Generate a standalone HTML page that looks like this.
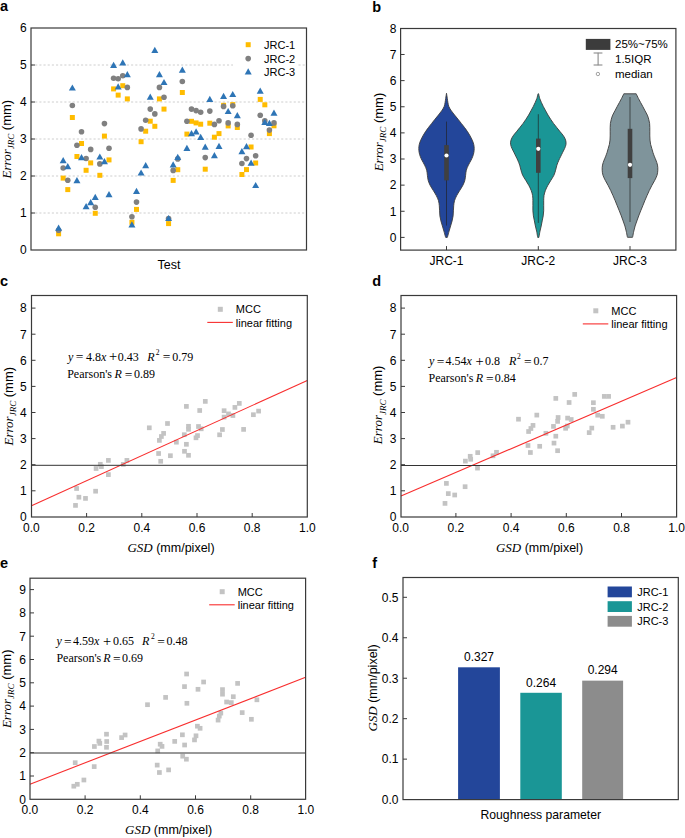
<!DOCTYPE html>
<html><head><meta charset="utf-8"><style>
html,body{margin:0;padding:0;background:#fff;overflow:hidden;}
svg{display:block;}
</style></head><body>
<svg width="685" height="838" viewBox="0 0 685 838" font-family='"Liberation Sans", sans-serif'>
<rect width="685" height="838" fill="#fff"/>
<line x1="31.00" y1="213.00" x2="306.50" y2="213.00" stroke="#c8c8c8" stroke-width="0.9" stroke-dasharray="2.1,2.07"/>
<line x1="31.00" y1="176.00" x2="306.50" y2="176.00" stroke="#c8c8c8" stroke-width="0.9" stroke-dasharray="2.1,2.07"/>
<line x1="31.00" y1="139.00" x2="306.50" y2="139.00" stroke="#c8c8c8" stroke-width="0.9" stroke-dasharray="2.1,2.07"/>
<line x1="31.00" y1="102.00" x2="306.50" y2="102.00" stroke="#c8c8c8" stroke-width="0.9" stroke-dasharray="2.1,2.07"/>
<line x1="31.00" y1="65.00" x2="233.00" y2="65.00" stroke="#c8c8c8" stroke-width="0.9" stroke-dasharray="2.1,2.07"/>
<line x1="298.50" y1="65.00" x2="306.50" y2="65.00" stroke="#c8c8c8" stroke-width="0.9" stroke-dasharray="2.1,2.07"/>
<text x="26.60" y="254.30" font-size="12" text-anchor="end" font-family='"Liberation Sans", sans-serif' font-weight="normal" font-style="normal" fill="#000" >0</text>
<line x1="31.00" y1="213.00" x2="35.00" y2="213.00" stroke="#3a3a3a" stroke-width="1" />
<text x="26.60" y="217.30" font-size="12" text-anchor="end" font-family='"Liberation Sans", sans-serif' font-weight="normal" font-style="normal" fill="#000" >1</text>
<line x1="31.00" y1="176.00" x2="35.00" y2="176.00" stroke="#3a3a3a" stroke-width="1" />
<text x="26.60" y="180.30" font-size="12" text-anchor="end" font-family='"Liberation Sans", sans-serif' font-weight="normal" font-style="normal" fill="#000" >2</text>
<line x1="31.00" y1="139.00" x2="35.00" y2="139.00" stroke="#3a3a3a" stroke-width="1" />
<text x="26.60" y="143.30" font-size="12" text-anchor="end" font-family='"Liberation Sans", sans-serif' font-weight="normal" font-style="normal" fill="#000" >3</text>
<line x1="31.00" y1="102.00" x2="35.00" y2="102.00" stroke="#3a3a3a" stroke-width="1" />
<text x="26.60" y="106.30" font-size="12" text-anchor="end" font-family='"Liberation Sans", sans-serif' font-weight="normal" font-style="normal" fill="#000" >4</text>
<line x1="31.00" y1="65.00" x2="35.00" y2="65.00" stroke="#3a3a3a" stroke-width="1" />
<text x="26.60" y="69.30" font-size="12" text-anchor="end" font-family='"Liberation Sans", sans-serif' font-weight="normal" font-style="normal" fill="#000" >5</text>
<text x="26.60" y="32.30" font-size="12" text-anchor="end" font-family='"Liberation Sans", sans-serif' font-weight="normal" font-style="normal" fill="#000" >6</text>
<rect x="31.00" y="28.00" width="275.50" height="222.00" fill="none" stroke="#3a3a3a" stroke-width="1.2"/>
<rect x="56.10" y="231.30" width="5.0" height="5.0" fill="#FFBC00"/>
<rect x="60.68" y="175.60" width="5.0" height="5.0" fill="#FFBC00"/>
<rect x="65.27" y="187.10" width="5.0" height="5.0" fill="#FFBC00"/>
<rect x="69.85" y="115.00" width="5.0" height="5.0" fill="#FFBC00"/>
<rect x="74.43" y="154.00" width="5.0" height="5.0" fill="#FFBC00"/>
<rect x="79.01" y="141.00" width="5.0" height="5.0" fill="#FFBC00"/>
<rect x="83.60" y="167.80" width="5.0" height="5.0" fill="#FFBC00"/>
<rect x="88.18" y="160.40" width="5.0" height="5.0" fill="#FFBC00"/>
<rect x="92.76" y="210.80" width="5.0" height="5.0" fill="#FFBC00"/>
<rect x="97.34" y="172.80" width="5.0" height="5.0" fill="#FFBC00"/>
<rect x="101.93" y="133.60" width="5.0" height="5.0" fill="#FFBC00"/>
<rect x="106.51" y="157.40" width="5.0" height="5.0" fill="#FFBC00"/>
<rect x="111.09" y="86.40" width="5.0" height="5.0" fill="#FFBC00"/>
<rect x="115.67" y="92.60" width="5.0" height="5.0" fill="#FFBC00"/>
<rect x="120.26" y="83.20" width="5.0" height="5.0" fill="#FFBC00"/>
<rect x="124.84" y="96.40" width="5.0" height="5.0" fill="#FFBC00"/>
<rect x="129.42" y="219.80" width="5.0" height="5.0" fill="#FFBC00"/>
<rect x="134.00" y="206.90" width="5.0" height="5.0" fill="#FFBC00"/>
<rect x="138.59" y="139.20" width="5.0" height="5.0" fill="#FFBC00"/>
<rect x="143.17" y="128.70" width="5.0" height="5.0" fill="#FFBC00"/>
<rect x="147.75" y="118.70" width="5.0" height="5.0" fill="#FFBC00"/>
<rect x="152.33" y="123.80" width="5.0" height="5.0" fill="#FFBC00"/>
<rect x="156.92" y="96.40" width="5.0" height="5.0" fill="#FFBC00"/>
<rect x="161.50" y="106.60" width="5.0" height="5.0" fill="#FFBC00"/>
<rect x="166.08" y="221.10" width="5.0" height="5.0" fill="#FFBC00"/>
<rect x="170.67" y="177.90" width="5.0" height="5.0" fill="#FFBC00"/>
<rect x="175.25" y="167.20" width="5.0" height="5.0" fill="#FFBC00"/>
<rect x="179.83" y="90.00" width="5.0" height="5.0" fill="#FFBC00"/>
<rect x="184.41" y="131.60" width="5.0" height="5.0" fill="#FFBC00"/>
<rect x="189.00" y="118.80" width="5.0" height="5.0" fill="#FFBC00"/>
<rect x="193.58" y="120.40" width="5.0" height="5.0" fill="#FFBC00"/>
<rect x="198.16" y="121.70" width="5.0" height="5.0" fill="#FFBC00"/>
<rect x="202.74" y="166.70" width="5.0" height="5.0" fill="#FFBC00"/>
<rect x="207.33" y="120.70" width="5.0" height="5.0" fill="#FFBC00"/>
<rect x="211.91" y="134.70" width="5.0" height="5.0" fill="#FFBC00"/>
<rect x="216.49" y="131.10" width="5.0" height="5.0" fill="#FFBC00"/>
<rect x="221.07" y="102.80" width="5.0" height="5.0" fill="#FFBC00"/>
<rect x="225.66" y="123.40" width="5.0" height="5.0" fill="#FFBC00"/>
<rect x="230.24" y="102.10" width="5.0" height="5.0" fill="#FFBC00"/>
<rect x="234.82" y="125.00" width="5.0" height="5.0" fill="#FFBC00"/>
<rect x="239.40" y="172.00" width="5.0" height="5.0" fill="#FFBC00"/>
<rect x="243.99" y="167.10" width="5.0" height="5.0" fill="#FFBC00"/>
<rect x="248.57" y="144.50" width="5.0" height="5.0" fill="#FFBC00"/>
<rect x="253.15" y="160.50" width="5.0" height="5.0" fill="#FFBC00"/>
<rect x="257.73" y="96.90" width="5.0" height="5.0" fill="#FFBC00"/>
<rect x="262.32" y="102.30" width="5.0" height="5.0" fill="#FFBC00"/>
<rect x="266.90" y="131.10" width="5.0" height="5.0" fill="#FFBC00"/>
<rect x="271.48" y="123.30" width="5.0" height="5.0" fill="#FFBC00"/>
<circle cx="58.60" cy="230.20" r="2.8" fill="#808080"/>
<circle cx="63.18" cy="168.00" r="2.8" fill="#808080"/>
<circle cx="67.77" cy="180.30" r="2.8" fill="#808080"/>
<circle cx="72.35" cy="105.50" r="2.8" fill="#808080"/>
<circle cx="76.93" cy="145.30" r="2.8" fill="#808080"/>
<circle cx="81.51" cy="131.70" r="2.8" fill="#808080"/>
<circle cx="86.10" cy="158.50" r="2.8" fill="#808080"/>
<circle cx="90.68" cy="149.40" r="2.8" fill="#808080"/>
<circle cx="95.26" cy="207.20" r="2.8" fill="#808080"/>
<circle cx="99.84" cy="163.90" r="2.8" fill="#808080"/>
<circle cx="104.43" cy="123.60" r="2.8" fill="#808080"/>
<circle cx="109.01" cy="148.30" r="2.8" fill="#808080"/>
<circle cx="113.59" cy="78.20" r="2.8" fill="#808080"/>
<circle cx="118.17" cy="78.70" r="2.8" fill="#808080"/>
<circle cx="122.76" cy="75.70" r="2.8" fill="#808080"/>
<circle cx="127.34" cy="87.40" r="2.8" fill="#808080"/>
<circle cx="131.92" cy="216.70" r="2.8" fill="#808080"/>
<circle cx="136.50" cy="202.10" r="2.8" fill="#808080"/>
<circle cx="141.09" cy="128.90" r="2.8" fill="#808080"/>
<circle cx="145.67" cy="120.20" r="2.8" fill="#808080"/>
<circle cx="150.25" cy="109.10" r="2.8" fill="#808080"/>
<circle cx="154.83" cy="113.90" r="2.8" fill="#808080"/>
<circle cx="159.42" cy="87.40" r="2.8" fill="#808080"/>
<circle cx="164.00" cy="97.30" r="2.8" fill="#808080"/>
<circle cx="168.58" cy="218.50" r="2.8" fill="#808080"/>
<circle cx="173.17" cy="170.40" r="2.8" fill="#808080"/>
<circle cx="177.75" cy="158.90" r="2.8" fill="#808080"/>
<circle cx="182.33" cy="81.50" r="2.8" fill="#808080"/>
<circle cx="186.91" cy="121.30" r="2.8" fill="#808080"/>
<circle cx="191.50" cy="109.10" r="2.8" fill="#808080"/>
<circle cx="196.08" cy="110.60" r="2.8" fill="#808080"/>
<circle cx="200.66" cy="112.20" r="2.8" fill="#808080"/>
<circle cx="205.24" cy="157.60" r="2.8" fill="#808080"/>
<circle cx="209.83" cy="111.10" r="2.8" fill="#808080"/>
<circle cx="214.41" cy="124.40" r="2.8" fill="#808080"/>
<circle cx="218.99" cy="120.80" r="2.8" fill="#808080"/>
<circle cx="223.57" cy="106.40" r="2.8" fill="#808080"/>
<circle cx="228.16" cy="122.90" r="2.8" fill="#808080"/>
<circle cx="232.74" cy="105.80" r="2.8" fill="#808080"/>
<circle cx="237.32" cy="124.40" r="2.8" fill="#808080"/>
<circle cx="241.90" cy="163.50" r="2.8" fill="#808080"/>
<circle cx="246.49" cy="158.60" r="2.8" fill="#808080"/>
<circle cx="251.07" cy="135.20" r="2.8" fill="#808080"/>
<circle cx="255.65" cy="155.80" r="2.8" fill="#808080"/>
<circle cx="260.23" cy="115.30" r="2.8" fill="#808080"/>
<circle cx="264.82" cy="120.90" r="2.8" fill="#808080"/>
<circle cx="269.40" cy="130.10" r="2.8" fill="#808080"/>
<circle cx="273.98" cy="122.90" r="2.8" fill="#808080"/>
<polygon points="58.60,224.50 62.10,230.70 55.10,230.70" fill="#2E75B6"/>
<polygon points="63.18,157.00 66.68,163.20 59.68,163.20" fill="#2E75B6"/>
<polygon points="67.77,163.10 71.27,169.30 64.27,169.30" fill="#2E75B6"/>
<polygon points="72.35,84.40 75.85,90.60 68.85,90.60" fill="#2E75B6"/>
<polygon points="76.93,177.00 80.43,183.20 73.43,183.20" fill="#2E75B6"/>
<polygon points="81.51,154.00 85.01,160.20 78.01,160.20" fill="#2E75B6"/>
<polygon points="86.10,203.10 89.60,209.30 82.60,209.30" fill="#2E75B6"/>
<polygon points="90.68,199.00 94.18,205.20 87.18,205.20" fill="#2E75B6"/>
<polygon points="95.26,193.70 98.76,199.90 91.76,199.90" fill="#2E75B6"/>
<polygon points="99.84,153.40 103.34,159.60 96.34,159.60" fill="#2E75B6"/>
<polygon points="104.43,158.00 107.93,164.20 100.93,164.20" fill="#2E75B6"/>
<polygon points="109.01,191.00 112.51,197.20 105.51,197.20" fill="#2E75B6"/>
<polygon points="113.59,61.80 117.09,68.00 110.09,68.00" fill="#2E75B6"/>
<polygon points="118.17,83.30 121.67,89.50 114.67,89.50" fill="#2E75B6"/>
<polygon points="122.76,59.30 126.26,65.50 119.26,65.50" fill="#2E75B6"/>
<polygon points="127.34,71.00 130.84,77.20 123.84,77.20" fill="#2E75B6"/>
<polygon points="131.92,221.30 135.42,227.50 128.42,227.50" fill="#2E75B6"/>
<polygon points="136.50,187.70 140.00,193.90 133.00,193.90" fill="#2E75B6"/>
<polygon points="141.09,169.40 144.59,175.60 137.59,175.60" fill="#2E75B6"/>
<polygon points="145.67,162.10 149.17,168.30 142.17,168.30" fill="#2E75B6"/>
<polygon points="150.25,93.50 153.75,99.70 146.75,99.70" fill="#2E75B6"/>
<polygon points="154.83,46.80 158.33,53.00 151.33,53.00" fill="#2E75B6"/>
<polygon points="159.42,71.00 162.92,77.20 155.92,77.20" fill="#2E75B6"/>
<polygon points="164.00,78.90 167.50,85.10 160.50,85.10" fill="#2E75B6"/>
<polygon points="168.58,214.90 172.08,221.10 165.08,221.10" fill="#2E75B6"/>
<polygon points="173.17,161.30 176.67,167.50 169.67,167.50" fill="#2E75B6"/>
<polygon points="177.75,153.70 181.25,159.90 174.25,159.90" fill="#2E75B6"/>
<polygon points="182.33,66.60 185.83,72.80 178.83,72.80" fill="#2E75B6"/>
<polygon points="186.91,144.80 190.41,151.00 183.41,151.00" fill="#2E75B6"/>
<polygon points="191.50,130.00 195.00,136.20 188.00,136.20" fill="#2E75B6"/>
<polygon points="196.08,128.30 199.58,134.50 192.58,134.50" fill="#2E75B6"/>
<polygon points="200.66,133.80 204.16,140.00 197.16,140.00" fill="#2E75B6"/>
<polygon points="205.24,143.50 208.74,149.70 201.74,149.70" fill="#2E75B6"/>
<polygon points="209.83,95.70 213.33,101.90 206.33,101.90" fill="#2E75B6"/>
<polygon points="214.41,152.00 217.91,158.20 210.91,158.20" fill="#2E75B6"/>
<polygon points="218.99,142.80 222.49,149.00 215.49,149.00" fill="#2E75B6"/>
<polygon points="223.57,92.70 227.07,98.90 220.07,98.90" fill="#2E75B6"/>
<polygon points="228.16,107.90 231.66,114.10 224.66,114.10" fill="#2E75B6"/>
<polygon points="232.74,90.90 236.24,97.10 229.24,97.10" fill="#2E75B6"/>
<polygon points="237.32,112.10 240.82,118.30 233.82,118.30" fill="#2E75B6"/>
<polygon points="241.90,148.10 245.40,154.30 238.40,154.30" fill="#2E75B6"/>
<polygon points="246.49,143.00 249.99,149.20 242.99,149.20" fill="#2E75B6"/>
<polygon points="251.07,159.60 254.57,165.80 247.57,165.80" fill="#2E75B6"/>
<polygon points="255.65,181.90 259.15,188.10 252.15,188.10" fill="#2E75B6"/>
<polygon points="260.23,87.60 263.73,93.80 256.73,93.80" fill="#2E75B6"/>
<polygon points="264.82,118.80 268.32,125.00 261.32,125.00" fill="#2E75B6"/>
<polygon points="269.40,119.80 272.90,126.00 265.90,126.00" fill="#2E75B6"/>
<polygon points="273.98,109.60 277.48,115.80 270.48,115.80" fill="#2E75B6"/>
<rect x="233" y="36" width="65" height="46" fill="#fff"/>
<rect x="245.70" y="42.20" width="5.0" height="5.0" fill="#FFBC00"/>
<text x="264.00" y="48.50" font-size="11" text-anchor="start" font-family='"Liberation Sans", sans-serif' font-weight="normal" font-style="normal" fill="#000" >JRC-1</text>
<circle cx="248.20" cy="58.60" r="2.8" fill="#808080"/>
<text x="264.00" y="62.80" font-size="11" text-anchor="start" font-family='"Liberation Sans", sans-serif' font-weight="normal" font-style="normal" fill="#000" >JRC-2</text>
<polygon points="248.20,68.30 251.70,74.50 244.70,74.50" fill="#2E75B6"/>
<text x="264.00" y="76.10" font-size="11" text-anchor="start" font-family='"Liberation Sans", sans-serif' font-weight="normal" font-style="normal" fill="#000" >JRC-3</text>
<text x="169.00" y="268.70" font-size="12.5" text-anchor="middle" font-family='"Liberation Sans", sans-serif' font-weight="normal" font-style="normal" fill="#000" >Test</text>
<text transform="translate(10.6,139.1) rotate(-90)" font-size="13" text-anchor="middle" fill="#000"><tspan font-family='"Liberation Serif", serif' font-style="italic">Error</tspan><tspan font-family='"Liberation Serif", serif' font-style="italic" font-size="9" dy="3.3">JRC</tspan><tspan font-family='"Liberation Sans", sans-serif' font-size="13" dy="-3.3"> (mm)</tspan></text>
<text x="0.00" y="11.20" font-size="14.5" text-anchor="start" font-family='"Liberation Sans", sans-serif' font-weight="bold" font-style="normal" fill="#000" >a</text>
<path d="M446.50,93.30 C446.63,94.15 447.07,96.87 447.30,98.40 C447.53,99.93 447.63,101.12 447.90,102.50 C448.17,103.88 448.32,105.30 448.90,106.70 C449.48,108.10 450.45,109.50 451.40,110.90 C452.35,112.30 453.50,113.72 454.60,115.10 C455.70,116.48 456.88,117.82 458.00,119.20 C459.12,120.58 460.20,122.00 461.30,123.40 C462.40,124.80 463.55,126.20 464.60,127.60 C465.65,129.00 466.68,130.42 467.60,131.80 C468.52,133.18 469.33,134.52 470.10,135.90 C470.87,137.28 471.60,138.70 472.20,140.10 C472.80,141.50 473.37,142.90 473.70,144.30 C474.03,145.70 474.18,147.10 474.20,148.50 C474.22,149.90 474.07,151.32 473.80,152.70 C473.53,154.08 473.05,155.57 472.60,156.80 C472.15,158.03 471.80,158.72 471.10,160.10 C470.40,161.48 469.20,163.42 468.40,165.10 C467.60,166.78 466.77,168.50 466.30,170.20 C465.83,171.90 465.85,173.60 465.60,175.30 C465.35,177.00 465.27,178.72 464.80,180.40 C464.33,182.08 463.65,183.72 462.80,185.40 C461.95,187.08 460.72,188.80 459.70,190.50 C458.68,192.20 457.57,193.90 456.70,195.60 C455.83,197.30 455.00,199.02 454.50,200.70 C454.00,202.38 453.88,204.02 453.70,205.70 C453.52,207.38 453.50,209.10 453.40,210.80 C453.30,212.50 453.32,214.22 453.10,215.90 C452.88,217.58 452.52,219.22 452.10,220.90 C451.68,222.58 451.10,224.30 450.60,226.00 C450.10,227.70 449.58,229.40 449.10,231.10 C448.62,232.80 448.00,235.15 447.70,236.20 C447.40,237.25 447.37,237.20 447.30,237.40 L445.70,237.40 C445.63,237.20 445.60,237.25 445.30,236.20 C445.00,235.15 444.38,232.80 443.90,231.10 C443.42,229.40 442.90,227.70 442.40,226.00 C441.90,224.30 441.32,222.58 440.90,220.90 C440.48,219.22 440.12,217.58 439.90,215.90 C439.68,214.22 439.70,212.50 439.60,210.80 C439.50,209.10 439.48,207.38 439.30,205.70 C439.12,204.02 439.00,202.38 438.50,200.70 C438.00,199.02 437.17,197.30 436.30,195.60 C435.43,193.90 434.32,192.20 433.30,190.50 C432.28,188.80 431.05,187.08 430.20,185.40 C429.35,183.72 428.67,182.08 428.20,180.40 C427.73,178.72 427.65,177.00 427.40,175.30 C427.15,173.60 427.17,171.90 426.70,170.20 C426.23,168.50 425.40,166.78 424.60,165.10 C423.80,163.42 422.60,161.48 421.90,160.10 C421.20,158.72 420.85,158.03 420.40,156.80 C419.95,155.57 419.47,154.08 419.20,152.70 C418.93,151.32 418.78,149.90 418.80,148.50 C418.82,147.10 418.97,145.70 419.30,144.30 C419.63,142.90 420.20,141.50 420.80,140.10 C421.40,138.70 422.13,137.28 422.90,135.90 C423.67,134.52 424.48,133.18 425.40,131.80 C426.32,130.42 427.35,129.00 428.40,127.60 C429.45,126.20 430.60,124.80 431.70,123.40 C432.80,122.00 433.88,120.58 435.00,119.20 C436.12,117.82 437.30,116.48 438.40,115.10 C439.50,113.72 440.65,112.30 441.60,110.90 C442.55,109.50 443.52,108.10 444.10,106.70 C444.68,105.30 444.83,103.88 445.10,102.50 C445.37,101.12 445.47,99.93 445.70,98.40 C445.93,96.87 446.37,94.15 446.50,93.30 Z" fill="#23469A" stroke="#3c3c3c" stroke-width="0.9"/>
<path d="M538.60,93.80 C538.78,94.57 539.23,96.95 539.70,98.40 C540.17,99.85 540.78,101.12 541.40,102.50 C542.02,103.88 542.68,105.30 543.40,106.70 C544.12,108.10 544.93,109.50 545.70,110.90 C546.47,112.30 547.18,113.72 548.00,115.10 C548.82,116.48 549.68,117.82 550.60,119.20 C551.52,120.58 552.47,122.00 553.50,123.40 C554.53,124.80 555.68,126.20 556.80,127.60 C557.92,129.00 559.08,130.42 560.20,131.80 C561.32,133.18 562.60,134.52 563.50,135.90 C564.40,137.28 565.18,138.70 565.60,140.10 C566.02,141.50 566.17,142.90 566.00,144.30 C565.83,145.70 565.18,147.10 564.60,148.50 C564.02,149.90 563.18,151.32 562.50,152.70 C561.82,154.08 561.10,155.57 560.50,156.80 C559.90,158.03 559.50,158.72 558.90,160.10 C558.30,161.48 557.45,163.42 556.90,165.10 C556.35,166.78 556.10,168.50 555.60,170.20 C555.10,171.90 554.70,173.60 553.90,175.30 C553.10,177.00 551.82,178.72 550.80,180.40 C549.78,182.08 548.70,183.72 547.80,185.40 C546.90,187.08 546.03,188.80 545.40,190.50 C544.77,192.20 544.28,193.90 544.00,195.60 C543.72,197.30 543.75,199.02 543.70,200.70 C543.65,202.38 543.70,204.02 543.70,205.70 C543.70,207.38 543.78,209.10 543.70,210.80 C543.62,212.50 543.45,214.22 543.20,215.90 C542.95,217.58 542.53,219.22 542.20,220.90 C541.87,222.58 541.57,224.30 541.20,226.00 C540.83,227.70 540.35,229.40 540.00,231.10 C539.65,232.80 539.28,235.15 539.10,236.20 C538.92,237.25 538.93,237.20 538.90,237.40 L537.70,237.40 C537.67,237.20 537.68,237.25 537.50,236.20 C537.32,235.15 536.95,232.80 536.60,231.10 C536.25,229.40 535.77,227.70 535.40,226.00 C535.03,224.30 534.73,222.58 534.40,220.90 C534.07,219.22 533.65,217.58 533.40,215.90 C533.15,214.22 532.98,212.50 532.90,210.80 C532.82,209.10 532.90,207.38 532.90,205.70 C532.90,204.02 532.95,202.38 532.90,200.70 C532.85,199.02 532.88,197.30 532.60,195.60 C532.32,193.90 531.83,192.20 531.20,190.50 C530.57,188.80 529.70,187.08 528.80,185.40 C527.90,183.72 526.82,182.08 525.80,180.40 C524.78,178.72 523.50,177.00 522.70,175.30 C521.90,173.60 521.50,171.90 521.00,170.20 C520.50,168.50 520.25,166.78 519.70,165.10 C519.15,163.42 518.30,161.48 517.70,160.10 C517.10,158.72 516.70,158.03 516.10,156.80 C515.50,155.57 514.78,154.08 514.10,152.70 C513.42,151.32 512.58,149.90 512.00,148.50 C511.42,147.10 510.77,145.70 510.60,144.30 C510.43,142.90 510.58,141.50 511.00,140.10 C511.42,138.70 512.20,137.28 513.10,135.90 C514.00,134.52 515.28,133.18 516.40,131.80 C517.52,130.42 518.68,129.00 519.80,127.60 C520.92,126.20 522.07,124.80 523.10,123.40 C524.13,122.00 525.08,120.58 526.00,119.20 C526.92,117.82 527.78,116.48 528.60,115.10 C529.42,113.72 530.13,112.30 530.90,110.90 C531.67,109.50 532.48,108.10 533.20,106.70 C533.92,105.30 534.58,103.88 535.20,102.50 C535.82,101.12 536.43,99.85 536.90,98.40 C537.37,96.95 537.82,94.57 538.00,93.80 Z" fill="#1A9696" stroke="#3c3c3c" stroke-width="0.9"/>
<path d="M636.20,93.80 C636.57,94.57 637.67,96.95 638.40,98.40 C639.13,99.85 639.85,101.12 640.60,102.50 C641.35,103.88 642.15,105.30 642.90,106.70 C643.65,108.10 644.37,109.50 645.10,110.90 C645.83,112.30 646.70,113.72 647.30,115.10 C647.90,116.48 648.32,117.82 648.70,119.20 C649.08,120.58 649.42,122.00 649.60,123.40 C649.78,124.80 649.77,126.20 649.80,127.60 C649.83,129.00 649.80,130.42 649.80,131.80 C649.80,133.18 649.77,134.52 649.80,135.90 C649.83,137.28 649.87,138.70 650.00,140.10 C650.13,141.50 650.30,142.90 650.60,144.30 C650.90,145.70 651.40,147.10 651.80,148.50 C652.20,149.90 652.55,151.32 653.00,152.70 C653.45,154.08 654.02,155.57 654.50,156.80 C654.98,158.03 655.40,158.72 655.90,160.10 C656.40,161.48 657.18,163.42 657.50,165.10 C657.82,166.78 657.88,168.50 657.80,170.20 C657.72,171.90 657.52,173.60 657.00,175.30 C656.48,177.00 655.55,178.72 654.70,180.40 C653.85,182.08 652.80,183.72 651.90,185.40 C651.00,187.08 650.12,188.80 649.30,190.50 C648.48,192.20 647.75,193.90 647.00,195.60 C646.25,197.30 645.50,199.02 644.80,200.70 C644.10,202.38 643.48,204.02 642.80,205.70 C642.12,207.38 641.38,209.10 640.70,210.80 C640.02,212.50 639.33,214.22 638.70,215.90 C638.07,217.58 637.50,219.22 636.90,220.90 C636.30,222.58 635.62,224.30 635.10,226.00 C634.58,227.70 634.18,229.40 633.80,231.10 C633.42,232.80 633.02,235.17 632.80,236.20 C632.58,237.23 632.55,237.12 632.50,237.30 L627.50,237.30 C627.45,237.12 627.42,237.23 627.20,236.20 C626.98,235.17 626.58,232.80 626.20,231.10 C625.82,229.40 625.42,227.70 624.90,226.00 C624.38,224.30 623.70,222.58 623.10,220.90 C622.50,219.22 621.93,217.58 621.30,215.90 C620.67,214.22 619.98,212.50 619.30,210.80 C618.62,209.10 617.88,207.38 617.20,205.70 C616.52,204.02 615.90,202.38 615.20,200.70 C614.50,199.02 613.75,197.30 613.00,195.60 C612.25,193.90 611.52,192.20 610.70,190.50 C609.88,188.80 609.00,187.08 608.10,185.40 C607.20,183.72 606.15,182.08 605.30,180.40 C604.45,178.72 603.52,177.00 603.00,175.30 C602.48,173.60 602.28,171.90 602.20,170.20 C602.12,168.50 602.18,166.78 602.50,165.10 C602.82,163.42 603.60,161.48 604.10,160.10 C604.60,158.72 605.02,158.03 605.50,156.80 C605.98,155.57 606.55,154.08 607.00,152.70 C607.45,151.32 607.80,149.90 608.20,148.50 C608.60,147.10 609.10,145.70 609.40,144.30 C609.70,142.90 609.87,141.50 610.00,140.10 C610.13,138.70 610.17,137.28 610.20,135.90 C610.23,134.52 610.20,133.18 610.20,131.80 C610.20,130.42 610.17,129.00 610.20,127.60 C610.23,126.20 610.22,124.80 610.40,123.40 C610.58,122.00 610.92,120.58 611.30,119.20 C611.68,117.82 612.10,116.48 612.70,115.10 C613.30,113.72 614.17,112.30 614.90,110.90 C615.63,109.50 616.35,108.10 617.10,106.70 C617.85,105.30 618.65,103.88 619.40,102.50 C620.15,101.12 620.87,99.85 621.60,98.40 C622.33,96.95 623.43,94.57 623.80,93.80 Z" fill="#7F949B" stroke="#3c3c3c" stroke-width="0.9"/>
<line x1="446.50" y1="121.60" x2="446.50" y2="225.60" stroke="#202020" stroke-width="1.0" stroke-opacity="0.65"/>
<rect x="444.20" y="145.10" width="4.6" height="35.30" fill="#404040"/>
<circle cx="446.50" cy="155.50" r="2.1" fill="#fff"/>
<line x1="538.30" y1="114.20" x2="538.30" y2="222.90" stroke="#202020" stroke-width="1.0" stroke-opacity="0.65"/>
<rect x="536.00" y="138.60" width="4.6" height="34.20" fill="#404040"/>
<circle cx="538.30" cy="148.80" r="2.1" fill="#fff"/>
<line x1="630.00" y1="97.00" x2="630.00" y2="222.00" stroke="#202020" stroke-width="1.0" stroke-opacity="0.65"/>
<rect x="627.70" y="128.80" width="4.6" height="49.30" fill="#404040"/>
<circle cx="630.00" cy="164.80" r="2.1" fill="#fff"/>
<line x1="400.60" y1="237.40" x2="404.60" y2="237.40" stroke="#3a3a3a" stroke-width="1" />
<text x="396.40" y="241.70" font-size="12" text-anchor="end" font-family='"Liberation Sans", sans-serif' font-weight="normal" font-style="normal" fill="#000" >0</text>
<line x1="400.60" y1="211.27" x2="404.60" y2="211.27" stroke="#3a3a3a" stroke-width="1" />
<text x="396.40" y="215.57" font-size="12" text-anchor="end" font-family='"Liberation Sans", sans-serif' font-weight="normal" font-style="normal" fill="#000" >1</text>
<line x1="400.60" y1="185.14" x2="404.60" y2="185.14" stroke="#3a3a3a" stroke-width="1" />
<text x="396.40" y="189.44" font-size="12" text-anchor="end" font-family='"Liberation Sans", sans-serif' font-weight="normal" font-style="normal" fill="#000" >2</text>
<line x1="400.60" y1="159.01" x2="404.60" y2="159.01" stroke="#3a3a3a" stroke-width="1" />
<text x="396.40" y="163.31" font-size="12" text-anchor="end" font-family='"Liberation Sans", sans-serif' font-weight="normal" font-style="normal" fill="#000" >3</text>
<line x1="400.60" y1="132.88" x2="404.60" y2="132.88" stroke="#3a3a3a" stroke-width="1" />
<text x="396.40" y="137.18" font-size="12" text-anchor="end" font-family='"Liberation Sans", sans-serif' font-weight="normal" font-style="normal" fill="#000" >4</text>
<line x1="400.60" y1="106.75" x2="404.60" y2="106.75" stroke="#3a3a3a" stroke-width="1" />
<text x="396.40" y="111.05" font-size="12" text-anchor="end" font-family='"Liberation Sans", sans-serif' font-weight="normal" font-style="normal" fill="#000" >5</text>
<line x1="400.60" y1="80.62" x2="404.60" y2="80.62" stroke="#3a3a3a" stroke-width="1" />
<text x="396.40" y="84.92" font-size="12" text-anchor="end" font-family='"Liberation Sans", sans-serif' font-weight="normal" font-style="normal" fill="#000" >6</text>
<line x1="400.60" y1="54.49" x2="404.60" y2="54.49" stroke="#3a3a3a" stroke-width="1" />
<text x="396.40" y="58.79" font-size="12" text-anchor="end" font-family='"Liberation Sans", sans-serif' font-weight="normal" font-style="normal" fill="#000" >7</text>
<text x="396.40" y="32.66" font-size="12" text-anchor="end" font-family='"Liberation Sans", sans-serif' font-weight="normal" font-style="normal" fill="#000" >8</text>
<line x1="446.50" y1="250.10" x2="446.50" y2="246.10" stroke="#3a3a3a" stroke-width="1" />
<text x="446.50" y="265.00" font-size="12" text-anchor="middle" font-family='"Liberation Sans", sans-serif' font-weight="normal" font-style="normal" fill="#000" >JRC-1</text>
<line x1="538.30" y1="250.10" x2="538.30" y2="246.10" stroke="#3a3a3a" stroke-width="1" />
<text x="538.30" y="265.00" font-size="12" text-anchor="middle" font-family='"Liberation Sans", sans-serif' font-weight="normal" font-style="normal" fill="#000" >JRC-2</text>
<line x1="630.00" y1="250.10" x2="630.00" y2="246.10" stroke="#3a3a3a" stroke-width="1" />
<text x="630.00" y="265.00" font-size="12" text-anchor="middle" font-family='"Liberation Sans", sans-serif' font-weight="normal" font-style="normal" fill="#000" >JRC-3</text>
<rect x="400.60" y="28.50" width="275.30" height="221.60" fill="none" stroke="#3a3a3a" stroke-width="1.2"/>
<rect x="585.8" y="38.9" width="24.6" height="11" fill="#3c3c3c"/>
<text x="615.00" y="48.40" font-size="11.5" text-anchor="start" font-family='"Liberation Sans", sans-serif' font-weight="normal" font-style="normal" fill="#000" >25%~75%</text>
<line x1="598.10" y1="52.70" x2="598.10" y2="65.30" stroke="#8a8a8a" stroke-width="1.1" />
<line x1="593.60" y1="53.00" x2="602.40" y2="53.00" stroke="#8a8a8a" stroke-width="1.1" />
<line x1="593.60" y1="65.00" x2="602.40" y2="65.00" stroke="#8a8a8a" stroke-width="1.1" />
<text x="615.00" y="63.30" font-size="11.5" text-anchor="start" font-family='"Liberation Sans", sans-serif' font-weight="normal" font-style="normal" fill="#000" >1.5IQR</text>
<circle cx="597.9" cy="74.0" r="1.7" fill="#fff" stroke="#8a8a8a" stroke-width="0.8"/>
<text x="615.00" y="77.50" font-size="11.5" text-anchor="start" font-family='"Liberation Sans", sans-serif' font-weight="normal" font-style="normal" fill="#000" >median</text>
<text transform="translate(382.6,132.05) rotate(-90)" font-size="13" text-anchor="middle" fill="#000"><tspan font-family='"Liberation Serif", serif' font-style="italic">Error</tspan><tspan font-family='"Liberation Serif", serif' font-style="italic" font-size="9" dy="3.3">JRC</tspan><tspan font-family='"Liberation Sans", sans-serif' font-size="13" dy="-3.3"> (mm)</tspan></text>
<text x="372.30" y="11.50" font-size="14.5" text-anchor="start" font-family='"Liberation Sans", sans-serif' font-weight="bold" font-style="normal" fill="#000" >b</text>
<rect x="73.15" y="503.05" width="4.7" height="4.7" fill="#C3C3C3"/>
<rect x="74.25" y="486.15" width="4.7" height="4.7" fill="#C3C3C3"/>
<rect x="76.55" y="494.85" width="4.7" height="4.7" fill="#C3C3C3"/>
<rect x="83.15" y="496.05" width="4.7" height="4.7" fill="#C3C3C3"/>
<rect x="93.25" y="488.85" width="4.7" height="4.7" fill="#C3C3C3"/>
<rect x="93.75" y="466.15" width="4.7" height="4.7" fill="#C3C3C3"/>
<rect x="97.95" y="461.95" width="4.7" height="4.7" fill="#C3C3C3"/>
<rect x="99.05" y="464.25" width="4.7" height="4.7" fill="#C3C3C3"/>
<rect x="106.05" y="458.05" width="4.7" height="4.7" fill="#C3C3C3"/>
<rect x="106.05" y="472.25" width="4.7" height="4.7" fill="#C3C3C3"/>
<rect x="120.95" y="462.05" width="4.7" height="4.7" fill="#C3C3C3"/>
<rect x="124.55" y="458.05" width="4.7" height="4.7" fill="#C3C3C3"/>
<rect x="146.95" y="425.45" width="4.7" height="4.7" fill="#C3C3C3"/>
<rect x="156.25" y="451.15" width="4.7" height="4.7" fill="#C3C3C3"/>
<rect x="157.05" y="438.05" width="4.7" height="4.7" fill="#C3C3C3"/>
<rect x="159.05" y="434.15" width="4.7" height="4.7" fill="#C3C3C3"/>
<rect x="161.25" y="431.05" width="4.7" height="4.7" fill="#C3C3C3"/>
<rect x="158.35" y="458.95" width="4.7" height="4.7" fill="#C3C3C3"/>
<rect x="165.15" y="421.15" width="4.7" height="4.7" fill="#C3C3C3"/>
<rect x="168.05" y="453.35" width="4.7" height="4.7" fill="#C3C3C3"/>
<rect x="174.05" y="439.85" width="4.7" height="4.7" fill="#C3C3C3"/>
<rect x="181.95" y="432.35" width="4.7" height="4.7" fill="#C3C3C3"/>
<rect x="182.15" y="448.95" width="4.7" height="4.7" fill="#C3C3C3"/>
<rect x="184.05" y="404.05" width="4.7" height="4.7" fill="#C3C3C3"/>
<rect x="184.05" y="441.95" width="4.7" height="4.7" fill="#C3C3C3"/>
<rect x="186.15" y="423.95" width="4.7" height="4.7" fill="#C3C3C3"/>
<rect x="186.15" y="426.95" width="4.7" height="4.7" fill="#C3C3C3"/>
<rect x="186.15" y="452.95" width="4.7" height="4.7" fill="#C3C3C3"/>
<rect x="193.65" y="435.45" width="4.7" height="4.7" fill="#C3C3C3"/>
<rect x="195.15" y="433.25" width="4.7" height="4.7" fill="#C3C3C3"/>
<rect x="196.15" y="424.15" width="4.7" height="4.7" fill="#C3C3C3"/>
<rect x="197.35" y="408.15" width="4.7" height="4.7" fill="#C3C3C3"/>
<rect x="198.85" y="426.45" width="4.7" height="4.7" fill="#C3C3C3"/>
<rect x="202.95" y="399.05" width="4.7" height="4.7" fill="#C3C3C3"/>
<rect x="217.25" y="432.45" width="4.7" height="4.7" fill="#C3C3C3"/>
<rect x="220.05" y="427.15" width="4.7" height="4.7" fill="#C3C3C3"/>
<rect x="221.75" y="408.35" width="4.7" height="4.7" fill="#C3C3C3"/>
<rect x="221.75" y="414.75" width="4.7" height="4.7" fill="#C3C3C3"/>
<rect x="226.15" y="411.55" width="4.7" height="4.7" fill="#C3C3C3"/>
<rect x="230.55" y="413.15" width="4.7" height="4.7" fill="#C3C3C3"/>
<rect x="232.55" y="405.05" width="4.7" height="4.7" fill="#C3C3C3"/>
<rect x="236.95" y="401.05" width="4.7" height="4.7" fill="#C3C3C3"/>
<rect x="241.25" y="427.05" width="4.7" height="4.7" fill="#C3C3C3"/>
<rect x="251.05" y="412.35" width="4.7" height="4.7" fill="#C3C3C3"/>
<rect x="256.25" y="408.75" width="4.7" height="4.7" fill="#C3C3C3"/>
<line x1="31.50" y1="505.68" x2="307.30" y2="380.44" stroke="#F82E2E" stroke-width="1.1" />
<line x1="31.50" y1="465.30" x2="307.30" y2="465.30" stroke="#333" stroke-width="1.0" />
<text x="26.60" y="521.20" font-size="12" text-anchor="end" font-family='"Liberation Sans", sans-serif' font-weight="normal" font-style="normal" fill="#000" >0</text>
<line x1="31.50" y1="490.80" x2="35.50" y2="490.80" stroke="#3a3a3a" stroke-width="1" />
<text x="26.60" y="495.10" font-size="12" text-anchor="end" font-family='"Liberation Sans", sans-serif' font-weight="normal" font-style="normal" fill="#000" >1</text>
<line x1="31.50" y1="464.70" x2="35.50" y2="464.70" stroke="#3a3a3a" stroke-width="1" />
<text x="26.60" y="469.00" font-size="12" text-anchor="end" font-family='"Liberation Sans", sans-serif' font-weight="normal" font-style="normal" fill="#000" >2</text>
<line x1="31.50" y1="438.60" x2="35.50" y2="438.60" stroke="#3a3a3a" stroke-width="1" />
<text x="26.60" y="442.90" font-size="12" text-anchor="end" font-family='"Liberation Sans", sans-serif' font-weight="normal" font-style="normal" fill="#000" >3</text>
<line x1="31.50" y1="412.50" x2="35.50" y2="412.50" stroke="#3a3a3a" stroke-width="1" />
<text x="26.60" y="416.80" font-size="12" text-anchor="end" font-family='"Liberation Sans", sans-serif' font-weight="normal" font-style="normal" fill="#000" >4</text>
<line x1="31.50" y1="386.40" x2="35.50" y2="386.40" stroke="#3a3a3a" stroke-width="1" />
<text x="26.60" y="390.70" font-size="12" text-anchor="end" font-family='"Liberation Sans", sans-serif' font-weight="normal" font-style="normal" fill="#000" >5</text>
<line x1="31.50" y1="360.30" x2="35.50" y2="360.30" stroke="#3a3a3a" stroke-width="1" />
<text x="26.60" y="364.60" font-size="12" text-anchor="end" font-family='"Liberation Sans", sans-serif' font-weight="normal" font-style="normal" fill="#000" >6</text>
<line x1="31.50" y1="334.20" x2="35.50" y2="334.20" stroke="#3a3a3a" stroke-width="1" />
<text x="26.60" y="338.50" font-size="12" text-anchor="end" font-family='"Liberation Sans", sans-serif' font-weight="normal" font-style="normal" fill="#000" >7</text>
<line x1="31.50" y1="308.10" x2="35.50" y2="308.10" stroke="#3a3a3a" stroke-width="1" />
<text x="26.60" y="312.40" font-size="12" text-anchor="end" font-family='"Liberation Sans", sans-serif' font-weight="normal" font-style="normal" fill="#000" >8</text>
<text x="31.40" y="531.60" font-size="12" text-anchor="middle" font-family='"Liberation Sans", sans-serif' font-weight="normal" font-style="normal" fill="#000" >0.0</text>
<line x1="86.60" y1="517.00" x2="86.60" y2="513.00" stroke="#3a3a3a" stroke-width="1" />
<text x="86.60" y="531.60" font-size="12" text-anchor="middle" font-family='"Liberation Sans", sans-serif' font-weight="normal" font-style="normal" fill="#000" >0.2</text>
<line x1="141.80" y1="517.00" x2="141.80" y2="513.00" stroke="#3a3a3a" stroke-width="1" />
<text x="141.80" y="531.60" font-size="12" text-anchor="middle" font-family='"Liberation Sans", sans-serif' font-weight="normal" font-style="normal" fill="#000" >0.4</text>
<line x1="197.00" y1="517.00" x2="197.00" y2="513.00" stroke="#3a3a3a" stroke-width="1" />
<text x="197.00" y="531.60" font-size="12" text-anchor="middle" font-family='"Liberation Sans", sans-serif' font-weight="normal" font-style="normal" fill="#000" >0.6</text>
<line x1="252.20" y1="517.00" x2="252.20" y2="513.00" stroke="#3a3a3a" stroke-width="1" />
<text x="252.20" y="531.60" font-size="12" text-anchor="middle" font-family='"Liberation Sans", sans-serif' font-weight="normal" font-style="normal" fill="#000" >0.8</text>
<text x="307.40" y="531.60" font-size="12" text-anchor="middle" font-family='"Liberation Sans", sans-serif' font-weight="normal" font-style="normal" fill="#000" >1.0</text>
<rect x="31.50" y="295.50" width="275.80" height="221.50" fill="none" stroke="#3a3a3a" stroke-width="1.2"/>
<rect x="217.80" y="306.80" width="5.0" height="5.0" fill="#C3C3C3"/>
<text x="235.80" y="313.20" font-size="11" text-anchor="start" font-family='"Liberation Sans", sans-serif' font-weight="normal" font-style="normal" fill="#000" >MCC</text>
<line x1="207.30" y1="322.40" x2="232.80" y2="322.40" stroke="#F82E2E" stroke-width="1.1" />
<text x="235.80" y="326.50" font-size="11" text-anchor="start" font-family='"Liberation Sans", sans-serif' font-weight="normal" font-style="normal" fill="#000" >linear fitting</text>
<text font-family='"Liberation Serif", serif' fill="#000"><tspan x="68.10" y="360.60" font-size="12" font-style="italic">y</tspan><tspan x="75.80" y="361.40" font-size="13.5">=</tspan><tspan x="86.00" y="360.60" font-size="12">4.8</tspan><tspan y="360.60" font-size="12" font-style="italic">x</tspan><tspan x="109.00" y="361.40" font-size="14.5">+</tspan><tspan x="117.70" y="360.60" font-size="12">0.43</tspan><tspan x="147.30" y="360.60" font-size="12" font-style="italic">R</tspan><tspan x="155.70" y="354.80" font-size="7.5">2</tspan><tspan x="162.80" y="361.40" font-size="13.5">=</tspan><tspan x="172.20" y="360.60" font-size="12">0.79</tspan></text>
<text font-family='"Liberation Serif", serif' fill="#000"><tspan x="67.20" y="378.30" font-size="12">Pearson&apos;s</tspan><tspan x="114.60" y="378.30" font-size="12" font-style="italic">R</tspan><tspan x="124.70" y="379.10" font-size="13.5">=</tspan><tspan x="133.90" y="378.30" font-size="12">0.89</tspan></text>
<text transform="translate(12.6,406.2) rotate(-90)" font-size="13" text-anchor="middle" fill="#000"><tspan font-family='"Liberation Serif", serif' font-style="italic">Error</tspan><tspan font-family='"Liberation Serif", serif' font-style="italic" font-size="9" dy="3.3">JRC</tspan><tspan font-family='"Liberation Sans", sans-serif' font-size="13" dy="-3.3"> (mm)</tspan></text>
<text x="171.0" y="552.0" text-anchor="middle" font-size="12" fill="#000"><tspan font-family='"Liberation Serif", serif' font-style="italic" font-size="13">GSD</tspan><tspan font-family='"Liberation Sans", sans-serif' font-size="12.5"> (mm/pixel)</tspan></text>
<text x="0.00" y="286.00" font-size="14.5" text-anchor="start" font-family='"Liberation Sans", sans-serif' font-weight="bold" font-style="normal" fill="#000" >c</text>
<rect x="442.65" y="501.05" width="4.7" height="4.7" fill="#C3C3C3"/>
<rect x="444.05" y="481.05" width="4.7" height="4.7" fill="#C3C3C3"/>
<rect x="445.95" y="491.25" width="4.7" height="4.7" fill="#C3C3C3"/>
<rect x="452.35" y="492.65" width="4.7" height="4.7" fill="#C3C3C3"/>
<rect x="462.75" y="484.35" width="4.7" height="4.7" fill="#C3C3C3"/>
<rect x="463.05" y="458.75" width="4.7" height="4.7" fill="#C3C3C3"/>
<rect x="467.85" y="453.95" width="4.7" height="4.7" fill="#C3C3C3"/>
<rect x="468.35" y="456.95" width="4.7" height="4.7" fill="#C3C3C3"/>
<rect x="475.35" y="450.25" width="4.7" height="4.7" fill="#C3C3C3"/>
<rect x="475.15" y="465.75" width="4.7" height="4.7" fill="#C3C3C3"/>
<rect x="490.65" y="453.45" width="4.7" height="4.7" fill="#C3C3C3"/>
<rect x="494.15" y="449.95" width="4.7" height="4.7" fill="#C3C3C3"/>
<rect x="516.15" y="416.85" width="4.7" height="4.7" fill="#C3C3C3"/>
<rect x="525.65" y="443.15" width="4.7" height="4.7" fill="#C3C3C3"/>
<rect x="526.25" y="429.15" width="4.7" height="4.7" fill="#C3C3C3"/>
<rect x="528.55" y="426.15" width="4.7" height="4.7" fill="#C3C3C3"/>
<rect x="530.65" y="423.05" width="4.7" height="4.7" fill="#C3C3C3"/>
<rect x="528.05" y="450.15" width="4.7" height="4.7" fill="#C3C3C3"/>
<rect x="534.45" y="412.75" width="4.7" height="4.7" fill="#C3C3C3"/>
<rect x="537.35" y="443.95" width="4.7" height="4.7" fill="#C3C3C3"/>
<rect x="543.55" y="430.95" width="4.7" height="4.7" fill="#C3C3C3"/>
<rect x="551.15" y="424.05" width="4.7" height="4.7" fill="#C3C3C3"/>
<rect x="551.65" y="440.75" width="4.7" height="4.7" fill="#C3C3C3"/>
<rect x="553.45" y="396.05" width="4.7" height="4.7" fill="#C3C3C3"/>
<rect x="553.45" y="433.85" width="4.7" height="4.7" fill="#C3C3C3"/>
<rect x="555.25" y="448.35" width="4.7" height="4.7" fill="#C3C3C3"/>
<rect x="555.75" y="415.15" width="4.7" height="4.7" fill="#C3C3C3"/>
<rect x="555.25" y="419.05" width="4.7" height="4.7" fill="#C3C3C3"/>
<rect x="565.25" y="415.75" width="4.7" height="4.7" fill="#C3C3C3"/>
<rect x="568.85" y="417.15" width="4.7" height="4.7" fill="#C3C3C3"/>
<rect x="564.95" y="423.65" width="4.7" height="4.7" fill="#C3C3C3"/>
<rect x="563.25" y="425.95" width="4.7" height="4.7" fill="#C3C3C3"/>
<rect x="566.75" y="400.15" width="4.7" height="4.7" fill="#C3C3C3"/>
<rect x="572.35" y="392.05" width="4.7" height="4.7" fill="#C3C3C3"/>
<rect x="586.85" y="430.25" width="4.7" height="4.7" fill="#C3C3C3"/>
<rect x="589.45" y="425.75" width="4.7" height="4.7" fill="#C3C3C3"/>
<rect x="591.05" y="400.35" width="4.7" height="4.7" fill="#C3C3C3"/>
<rect x="591.05" y="406.95" width="4.7" height="4.7" fill="#C3C3C3"/>
<rect x="595.35" y="412.85" width="4.7" height="4.7" fill="#C3C3C3"/>
<rect x="599.95" y="413.95" width="4.7" height="4.7" fill="#C3C3C3"/>
<rect x="601.95" y="394.05" width="4.7" height="4.7" fill="#C3C3C3"/>
<rect x="606.25" y="394.05" width="4.7" height="4.7" fill="#C3C3C3"/>
<rect x="610.75" y="424.95" width="4.7" height="4.7" fill="#C3C3C3"/>
<rect x="620.05" y="423.75" width="4.7" height="4.7" fill="#C3C3C3"/>
<rect x="625.65" y="419.85" width="4.7" height="4.7" fill="#C3C3C3"/>
<line x1="401.00" y1="496.02" x2="676.60" y2="377.57" stroke="#F82E2E" stroke-width="1.1" />
<line x1="401.00" y1="465.50" x2="676.60" y2="465.50" stroke="#333" stroke-width="1.0" />
<text x="396.40" y="521.20" font-size="12" text-anchor="end" font-family='"Liberation Sans", sans-serif' font-weight="normal" font-style="normal" fill="#000" >0</text>
<line x1="401.00" y1="490.80" x2="405.00" y2="490.80" stroke="#3a3a3a" stroke-width="1" />
<text x="396.40" y="495.10" font-size="12" text-anchor="end" font-family='"Liberation Sans", sans-serif' font-weight="normal" font-style="normal" fill="#000" >1</text>
<line x1="401.00" y1="464.70" x2="405.00" y2="464.70" stroke="#3a3a3a" stroke-width="1" />
<text x="396.40" y="469.00" font-size="12" text-anchor="end" font-family='"Liberation Sans", sans-serif' font-weight="normal" font-style="normal" fill="#000" >2</text>
<line x1="401.00" y1="438.60" x2="405.00" y2="438.60" stroke="#3a3a3a" stroke-width="1" />
<text x="396.40" y="442.90" font-size="12" text-anchor="end" font-family='"Liberation Sans", sans-serif' font-weight="normal" font-style="normal" fill="#000" >3</text>
<line x1="401.00" y1="412.50" x2="405.00" y2="412.50" stroke="#3a3a3a" stroke-width="1" />
<text x="396.40" y="416.80" font-size="12" text-anchor="end" font-family='"Liberation Sans", sans-serif' font-weight="normal" font-style="normal" fill="#000" >4</text>
<line x1="401.00" y1="386.40" x2="405.00" y2="386.40" stroke="#3a3a3a" stroke-width="1" />
<text x="396.40" y="390.70" font-size="12" text-anchor="end" font-family='"Liberation Sans", sans-serif' font-weight="normal" font-style="normal" fill="#000" >5</text>
<line x1="401.00" y1="360.30" x2="405.00" y2="360.30" stroke="#3a3a3a" stroke-width="1" />
<text x="396.40" y="364.60" font-size="12" text-anchor="end" font-family='"Liberation Sans", sans-serif' font-weight="normal" font-style="normal" fill="#000" >6</text>
<line x1="401.00" y1="334.20" x2="405.00" y2="334.20" stroke="#3a3a3a" stroke-width="1" />
<text x="396.40" y="338.50" font-size="12" text-anchor="end" font-family='"Liberation Sans", sans-serif' font-weight="normal" font-style="normal" fill="#000" >7</text>
<line x1="401.00" y1="308.10" x2="405.00" y2="308.10" stroke="#3a3a3a" stroke-width="1" />
<text x="396.40" y="312.40" font-size="12" text-anchor="end" font-family='"Liberation Sans", sans-serif' font-weight="normal" font-style="normal" fill="#000" >8</text>
<text x="400.70" y="531.60" font-size="12" text-anchor="middle" font-family='"Liberation Sans", sans-serif' font-weight="normal" font-style="normal" fill="#000" >0.0</text>
<line x1="455.90" y1="517.00" x2="455.90" y2="513.00" stroke="#3a3a3a" stroke-width="1" />
<text x="455.90" y="531.60" font-size="12" text-anchor="middle" font-family='"Liberation Sans", sans-serif' font-weight="normal" font-style="normal" fill="#000" >0.2</text>
<line x1="511.10" y1="517.00" x2="511.10" y2="513.00" stroke="#3a3a3a" stroke-width="1" />
<text x="511.10" y="531.60" font-size="12" text-anchor="middle" font-family='"Liberation Sans", sans-serif' font-weight="normal" font-style="normal" fill="#000" >0.4</text>
<line x1="566.30" y1="517.00" x2="566.30" y2="513.00" stroke="#3a3a3a" stroke-width="1" />
<text x="566.30" y="531.60" font-size="12" text-anchor="middle" font-family='"Liberation Sans", sans-serif' font-weight="normal" font-style="normal" fill="#000" >0.6</text>
<line x1="621.50" y1="517.00" x2="621.50" y2="513.00" stroke="#3a3a3a" stroke-width="1" />
<text x="621.50" y="531.60" font-size="12" text-anchor="middle" font-family='"Liberation Sans", sans-serif' font-weight="normal" font-style="normal" fill="#000" >0.8</text>
<text x="676.70" y="531.60" font-size="12" text-anchor="middle" font-family='"Liberation Sans", sans-serif' font-weight="normal" font-style="normal" fill="#000" >1.0</text>
<rect x="401.00" y="295.50" width="275.60" height="221.50" fill="none" stroke="#3a3a3a" stroke-width="1.2"/>
<rect x="593.30" y="308.30" width="5.0" height="5.0" fill="#C3C3C3"/>
<text x="611.30" y="314.70" font-size="11" text-anchor="start" font-family='"Liberation Sans", sans-serif' font-weight="normal" font-style="normal" fill="#000" >MCC</text>
<line x1="582.80" y1="323.90" x2="608.30" y2="323.90" stroke="#F82E2E" stroke-width="1.1" />
<text x="611.30" y="328.00" font-size="11" text-anchor="start" font-family='"Liberation Sans", sans-serif' font-weight="normal" font-style="normal" fill="#000" >linear fitting</text>
<text font-family='"Liberation Serif", serif' fill="#000"><tspan x="429.10" y="364.80" font-size="12" font-style="italic">y</tspan><tspan x="436.80" y="365.60" font-size="13.5">=</tspan><tspan x="445.40" y="364.80" font-size="12">4.54</tspan><tspan y="364.80" font-size="12" font-style="italic">x</tspan><tspan x="475.60" y="365.60" font-size="14.5">+</tspan><tspan x="485.10" y="364.80" font-size="12">0.8</tspan><tspan x="509.10" y="364.80" font-size="12" font-style="italic">R</tspan><tspan x="517.00" y="359.00" font-size="7.5">2</tspan><tspan x="524.10" y="365.60" font-size="13.5">=</tspan><tspan x="533.60" y="364.80" font-size="12">0.7</tspan></text>
<text font-family='"Liberation Serif", serif' fill="#000"><tspan x="428.50" y="382.30" font-size="12">Pearson&apos;s</tspan><tspan x="475.80" y="382.30" font-size="12" font-style="italic">R</tspan><tspan x="485.90" y="383.10" font-size="13.5">=</tspan><tspan x="494.70" y="382.30" font-size="12">0.84</tspan></text>
<text transform="translate(382.2,404.9) rotate(-90)" font-size="13" text-anchor="middle" fill="#000"><tspan font-family='"Liberation Serif", serif' font-style="italic">Error</tspan><tspan font-family='"Liberation Serif", serif' font-style="italic" font-size="9" dy="3.3">JRC</tspan><tspan font-family='"Liberation Sans", sans-serif' font-size="13" dy="-3.3"> (mm)</tspan></text>
<text x="539.5" y="551.5" text-anchor="middle" font-size="12" fill="#000"><tspan font-family='"Liberation Serif", serif' font-style="italic" font-size="13">GSD</tspan><tspan font-family='"Liberation Sans", sans-serif' font-size="12.5"> (mm/pixel)</tspan></text>
<text x="372.30" y="286.00" font-size="14.5" text-anchor="start" font-family='"Liberation Sans", sans-serif' font-weight="bold" font-style="normal" fill="#000" >d</text>
<rect x="71.45" y="783.85" width="4.7" height="4.7" fill="#C3C3C3"/>
<rect x="74.95" y="781.95" width="4.7" height="4.7" fill="#C3C3C3"/>
<rect x="81.55" y="777.65" width="4.7" height="4.7" fill="#C3C3C3"/>
<rect x="72.85" y="760.35" width="4.7" height="4.7" fill="#C3C3C3"/>
<rect x="91.85" y="764.25" width="4.7" height="4.7" fill="#C3C3C3"/>
<rect x="92.05" y="744.15" width="4.7" height="4.7" fill="#C3C3C3"/>
<rect x="96.55" y="738.75" width="4.7" height="4.7" fill="#C3C3C3"/>
<rect x="97.45" y="741.05" width="4.7" height="4.7" fill="#C3C3C3"/>
<rect x="104.15" y="731.85" width="4.7" height="4.7" fill="#C3C3C3"/>
<rect x="104.35" y="739.15" width="4.7" height="4.7" fill="#C3C3C3"/>
<rect x="104.15" y="744.95" width="4.7" height="4.7" fill="#C3C3C3"/>
<rect x="119.25" y="735.25" width="4.7" height="4.7" fill="#C3C3C3"/>
<rect x="122.75" y="732.65" width="4.7" height="4.7" fill="#C3C3C3"/>
<rect x="145.15" y="702.35" width="4.7" height="4.7" fill="#C3C3C3"/>
<rect x="154.85" y="762.75" width="4.7" height="4.7" fill="#C3C3C3"/>
<rect x="157.05" y="770.15" width="4.7" height="4.7" fill="#C3C3C3"/>
<rect x="166.25" y="767.55" width="4.7" height="4.7" fill="#C3C3C3"/>
<rect x="155.35" y="748.55" width="4.7" height="4.7" fill="#C3C3C3"/>
<rect x="157.85" y="741.85" width="4.7" height="4.7" fill="#C3C3C3"/>
<rect x="159.65" y="744.05" width="4.7" height="4.7" fill="#C3C3C3"/>
<rect x="163.25" y="695.05" width="4.7" height="4.7" fill="#C3C3C3"/>
<rect x="172.35" y="739.05" width="4.7" height="4.7" fill="#C3C3C3"/>
<rect x="180.05" y="732.45" width="4.7" height="4.7" fill="#C3C3C3"/>
<rect x="182.25" y="742.65" width="4.7" height="4.7" fill="#C3C3C3"/>
<rect x="180.35" y="753.85" width="4.7" height="4.7" fill="#C3C3C3"/>
<rect x="184.05" y="756.85" width="4.7" height="4.7" fill="#C3C3C3"/>
<rect x="182.15" y="684.25" width="4.7" height="4.7" fill="#C3C3C3"/>
<rect x="184.25" y="671.65" width="4.7" height="4.7" fill="#C3C3C3"/>
<rect x="184.55" y="700.95" width="4.7" height="4.7" fill="#C3C3C3"/>
<rect x="192.15" y="737.55" width="4.7" height="4.7" fill="#C3C3C3"/>
<rect x="193.65" y="733.45" width="4.7" height="4.7" fill="#C3C3C3"/>
<rect x="195.05" y="723.85" width="4.7" height="4.7" fill="#C3C3C3"/>
<rect x="197.75" y="725.95" width="4.7" height="4.7" fill="#C3C3C3"/>
<rect x="195.65" y="686.95" width="4.7" height="4.7" fill="#C3C3C3"/>
<rect x="201.25" y="679.65" width="4.7" height="4.7" fill="#C3C3C3"/>
<rect x="215.75" y="717.75" width="4.7" height="4.7" fill="#C3C3C3"/>
<rect x="216.95" y="713.75" width="4.7" height="4.7" fill="#C3C3C3"/>
<rect x="218.45" y="710.75" width="4.7" height="4.7" fill="#C3C3C3"/>
<rect x="220.15" y="687.25" width="4.7" height="4.7" fill="#C3C3C3"/>
<rect x="220.15" y="691.85" width="4.7" height="4.7" fill="#C3C3C3"/>
<rect x="224.25" y="699.65" width="4.7" height="4.7" fill="#C3C3C3"/>
<rect x="228.95" y="700.25" width="4.7" height="4.7" fill="#C3C3C3"/>
<rect x="230.95" y="694.35" width="4.7" height="4.7" fill="#C3C3C3"/>
<rect x="235.25" y="681.05" width="4.7" height="4.7" fill="#C3C3C3"/>
<rect x="239.85" y="710.25" width="4.7" height="4.7" fill="#C3C3C3"/>
<rect x="249.05" y="716.95" width="4.7" height="4.7" fill="#C3C3C3"/>
<rect x="254.55" y="697.45" width="4.7" height="4.7" fill="#C3C3C3"/>
<line x1="30.00" y1="784.15" x2="305.60" y2="677.32" stroke="#F82E2E" stroke-width="1.1" />
<line x1="30.00" y1="753.00" x2="305.60" y2="753.00" stroke="#333" stroke-width="1.0" />
<text x="26.00" y="803.60" font-size="12" text-anchor="end" font-family='"Liberation Sans", sans-serif' font-weight="normal" font-style="normal" fill="#000" >0</text>
<line x1="30.00" y1="776.00" x2="34.00" y2="776.00" stroke="#3a3a3a" stroke-width="1" />
<text x="26.00" y="780.30" font-size="12" text-anchor="end" font-family='"Liberation Sans", sans-serif' font-weight="normal" font-style="normal" fill="#000" >1</text>
<line x1="30.00" y1="752.70" x2="34.00" y2="752.70" stroke="#3a3a3a" stroke-width="1" />
<text x="26.00" y="757.00" font-size="12" text-anchor="end" font-family='"Liberation Sans", sans-serif' font-weight="normal" font-style="normal" fill="#000" >2</text>
<line x1="30.00" y1="729.40" x2="34.00" y2="729.40" stroke="#3a3a3a" stroke-width="1" />
<text x="26.00" y="733.70" font-size="12" text-anchor="end" font-family='"Liberation Sans", sans-serif' font-weight="normal" font-style="normal" fill="#000" >3</text>
<line x1="30.00" y1="706.10" x2="34.00" y2="706.10" stroke="#3a3a3a" stroke-width="1" />
<text x="26.00" y="710.40" font-size="12" text-anchor="end" font-family='"Liberation Sans", sans-serif' font-weight="normal" font-style="normal" fill="#000" >4</text>
<line x1="30.00" y1="682.80" x2="34.00" y2="682.80" stroke="#3a3a3a" stroke-width="1" />
<text x="26.00" y="687.10" font-size="12" text-anchor="end" font-family='"Liberation Sans", sans-serif' font-weight="normal" font-style="normal" fill="#000" >5</text>
<line x1="30.00" y1="659.50" x2="34.00" y2="659.50" stroke="#3a3a3a" stroke-width="1" />
<text x="26.00" y="663.80" font-size="12" text-anchor="end" font-family='"Liberation Sans", sans-serif' font-weight="normal" font-style="normal" fill="#000" >6</text>
<line x1="30.00" y1="636.20" x2="34.00" y2="636.20" stroke="#3a3a3a" stroke-width="1" />
<text x="26.00" y="640.50" font-size="12" text-anchor="end" font-family='"Liberation Sans", sans-serif' font-weight="normal" font-style="normal" fill="#000" >7</text>
<line x1="30.00" y1="612.90" x2="34.00" y2="612.90" stroke="#3a3a3a" stroke-width="1" />
<text x="26.00" y="617.20" font-size="12" text-anchor="end" font-family='"Liberation Sans", sans-serif' font-weight="normal" font-style="normal" fill="#000" >8</text>
<line x1="30.00" y1="589.60" x2="34.00" y2="589.60" stroke="#3a3a3a" stroke-width="1" />
<text x="26.00" y="593.90" font-size="12" text-anchor="end" font-family='"Liberation Sans", sans-serif' font-weight="normal" font-style="normal" fill="#000" >9</text>
<text x="29.90" y="813.90" font-size="12" text-anchor="middle" font-family='"Liberation Sans", sans-serif' font-weight="normal" font-style="normal" fill="#000" >0.0</text>
<line x1="85.10" y1="799.30" x2="85.10" y2="795.30" stroke="#3a3a3a" stroke-width="1" />
<text x="85.10" y="813.90" font-size="12" text-anchor="middle" font-family='"Liberation Sans", sans-serif' font-weight="normal" font-style="normal" fill="#000" >0.2</text>
<line x1="140.30" y1="799.30" x2="140.30" y2="795.30" stroke="#3a3a3a" stroke-width="1" />
<text x="140.30" y="813.90" font-size="12" text-anchor="middle" font-family='"Liberation Sans", sans-serif' font-weight="normal" font-style="normal" fill="#000" >0.4</text>
<line x1="195.50" y1="799.30" x2="195.50" y2="795.30" stroke="#3a3a3a" stroke-width="1" />
<text x="195.50" y="813.90" font-size="12" text-anchor="middle" font-family='"Liberation Sans", sans-serif' font-weight="normal" font-style="normal" fill="#000" >0.6</text>
<line x1="250.70" y1="799.30" x2="250.70" y2="795.30" stroke="#3a3a3a" stroke-width="1" />
<text x="250.70" y="813.90" font-size="12" text-anchor="middle" font-family='"Liberation Sans", sans-serif' font-weight="normal" font-style="normal" fill="#000" >0.8</text>
<text x="305.90" y="813.90" font-size="12" text-anchor="middle" font-family='"Liberation Sans", sans-serif' font-weight="normal" font-style="normal" fill="#000" >1.0</text>
<rect x="30.00" y="578.20" width="275.60" height="221.10" fill="none" stroke="#3a3a3a" stroke-width="1.2"/>
<rect x="219.70" y="589.20" width="5.0" height="5.0" fill="#C3C3C3"/>
<text x="237.70" y="595.60" font-size="11" text-anchor="start" font-family='"Liberation Sans", sans-serif' font-weight="normal" font-style="normal" fill="#000" >MCC</text>
<line x1="209.20" y1="604.80" x2="234.70" y2="604.80" stroke="#F82E2E" stroke-width="1.1" />
<text x="237.70" y="608.90" font-size="11" text-anchor="start" font-family='"Liberation Sans", sans-serif' font-weight="normal" font-style="normal" fill="#000" >linear fitting</text>
<text font-family='"Liberation Serif", serif' fill="#000"><tspan x="56.60" y="644.80" font-size="12" font-style="italic">y</tspan><tspan x="64.10" y="645.60" font-size="13.5">=</tspan><tspan x="73.00" y="644.80" font-size="12">4.59</tspan><tspan y="644.80" font-size="12" font-style="italic">x</tspan><tspan x="103.10" y="645.60" font-size="14.5">+</tspan><tspan x="112.90" y="644.80" font-size="12">0.65</tspan><tspan x="142.10" y="644.80" font-size="12" font-style="italic">R</tspan><tspan x="150.90" y="639.00" font-size="7.5">2</tspan><tspan x="157.30" y="645.60" font-size="13.5">=</tspan><tspan x="166.60" y="644.80" font-size="12">0.48</tspan></text>
<text font-family='"Liberation Serif", serif' fill="#000"><tspan x="56.40" y="662.20" font-size="12">Pearson&apos;s</tspan><tspan x="103.20" y="662.20" font-size="12" font-style="italic">R</tspan><tspan x="113.00" y="663.00" font-size="13.5">=</tspan><tspan x="121.90" y="662.20" font-size="12">0.69</tspan></text>
<text transform="translate(11.0,688.8) rotate(-90)" font-size="13" text-anchor="middle" fill="#000"><tspan font-family='"Liberation Serif", serif' font-style="italic">Error</tspan><tspan font-family='"Liberation Serif", serif' font-style="italic" font-size="9" dy="3.3">JRC</tspan><tspan font-family='"Liberation Sans", sans-serif' font-size="13" dy="-3.3"> (mm)</tspan></text>
<text x="168.6" y="834.4" text-anchor="middle" font-size="12" fill="#000"><tspan font-family='"Liberation Serif", serif' font-style="italic" font-size="13">GSD</tspan><tspan font-family='"Liberation Sans", sans-serif' font-size="12.5"> (mm/pixel)</tspan></text>
<text x="0.00" y="567.50" font-size="14.5" text-anchor="start" font-family='"Liberation Sans", sans-serif' font-weight="bold" font-style="normal" fill="#000" >e</text>
<rect x="458.1" y="667.30" width="41.80" height="132.30" fill="#23469A"/>
<text x="479.00" y="661.10" font-size="12" text-anchor="middle" font-family='"Liberation Sans", sans-serif' font-weight="normal" font-style="normal" fill="#000" >0.327</text>
<rect x="520.3" y="692.79" width="41.50" height="106.81" fill="#1A9696"/>
<text x="541.05" y="686.59" font-size="12" text-anchor="middle" font-family='"Liberation Sans", sans-serif' font-weight="normal" font-style="normal" fill="#000" >0.264</text>
<rect x="582.2" y="680.65" width="40.90" height="118.95" fill="#8C8C8C"/>
<text x="602.65" y="674.45" font-size="12" text-anchor="middle" font-family='"Liberation Sans", sans-serif' font-weight="normal" font-style="normal" fill="#000" >0.294</text>
<text x="398.40" y="803.90" font-size="12" text-anchor="end" font-family='"Liberation Sans", sans-serif' font-weight="normal" font-style="normal" fill="#000" >0.0</text>
<line x1="403.00" y1="759.14" x2="407.00" y2="759.14" stroke="#3a3a3a" stroke-width="1" />
<text x="398.40" y="763.44" font-size="12" text-anchor="end" font-family='"Liberation Sans", sans-serif' font-weight="normal" font-style="normal" fill="#000" >0.1</text>
<line x1="403.00" y1="718.68" x2="407.00" y2="718.68" stroke="#3a3a3a" stroke-width="1" />
<text x="398.40" y="722.98" font-size="12" text-anchor="end" font-family='"Liberation Sans", sans-serif' font-weight="normal" font-style="normal" fill="#000" >0.2</text>
<line x1="403.00" y1="678.22" x2="407.00" y2="678.22" stroke="#3a3a3a" stroke-width="1" />
<text x="398.40" y="682.52" font-size="12" text-anchor="end" font-family='"Liberation Sans", sans-serif' font-weight="normal" font-style="normal" fill="#000" >0.3</text>
<line x1="403.00" y1="637.76" x2="407.00" y2="637.76" stroke="#3a3a3a" stroke-width="1" />
<text x="398.40" y="642.06" font-size="12" text-anchor="end" font-family='"Liberation Sans", sans-serif' font-weight="normal" font-style="normal" fill="#000" >0.4</text>
<line x1="403.00" y1="597.30" x2="407.00" y2="597.30" stroke="#3a3a3a" stroke-width="1" />
<text x="398.40" y="601.60" font-size="12" text-anchor="end" font-family='"Liberation Sans", sans-serif' font-weight="normal" font-style="normal" fill="#000" >0.5</text>
<rect x="403.00" y="577.50" width="275.30" height="222.10" fill="none" stroke="#3a3a3a" stroke-width="1.2"/>
<rect x="607.6" y="586.50" width="24.3" height="10.8" fill="#23469A"/>
<text x="637.20" y="595.80" font-size="11" text-anchor="start" font-family='"Liberation Sans", sans-serif' font-weight="normal" font-style="normal" fill="#000" >JRC-1</text>
<rect x="607.6" y="601.20" width="24.3" height="10.8" fill="#1A9696"/>
<text x="637.20" y="610.50" font-size="11" text-anchor="start" font-family='"Liberation Sans", sans-serif' font-weight="normal" font-style="normal" fill="#000" >JRC-2</text>
<rect x="607.6" y="615.90" width="24.3" height="10.8" fill="#8C8C8C"/>
<text x="637.20" y="625.20" font-size="11" text-anchor="start" font-family='"Liberation Sans", sans-serif' font-weight="normal" font-style="normal" fill="#000" >JRC-3</text>
<text x="540.80" y="818.60" font-size="12.2" text-anchor="middle" font-family='"Liberation Sans", sans-serif' font-weight="normal" font-style="normal" fill="#000" >Roughness parameter</text>
<text transform="translate(376.8,688.0) rotate(-90)" text-anchor="middle" font-size="12" fill="#000"><tspan font-family='"Liberation Serif", serif' font-style="italic" font-size="13">GSD</tspan><tspan font-family='"Liberation Sans", sans-serif' font-size="12.5"> (mm/pixel)</tspan></text>
<text x="372.30" y="567.50" font-size="14.5" text-anchor="start" font-family='"Liberation Sans", sans-serif' font-weight="bold" font-style="normal" fill="#000" >f</text>
</svg></body></html>
